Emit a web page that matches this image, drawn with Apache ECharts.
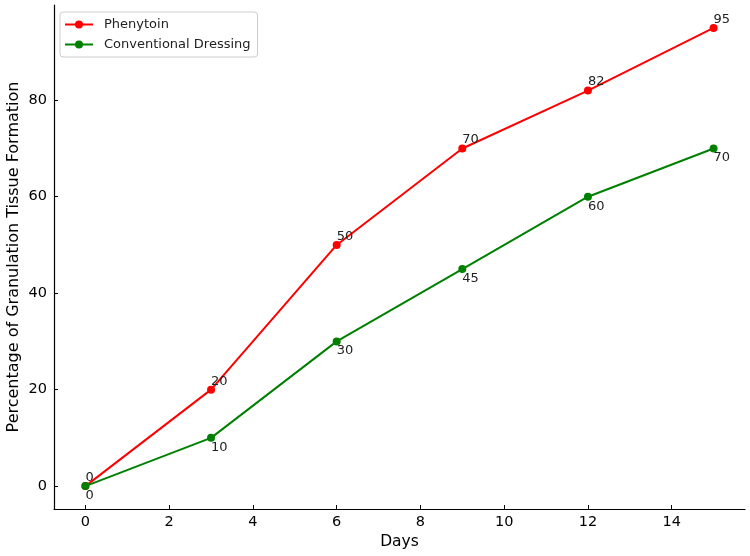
<!DOCTYPE html>
<html>
<head>
<meta charset="utf-8">
<script src="https://cdn.jsdelivr.net/npm/echarts@6/dist/echarts.min.js"></script>
<style>
html,body{margin:0;padding:0;background:#fff;}
#chart{width:750px;height:556px;}
</style>
</head>
<body>
<div id="chart"></div>
<script>
const days = [0, 3, 6, 9, 12, 15];
const phenytoin = [0, 20, 50, 70, 82, 95];
const conventional = [0, 10, 30, 45, 60, 70];
const xTicks = [0, 2, 4, 6, 8, 10, 12, 14];
const yTicks = [0, 20, 40, 60, 80];
const seriesNames = ['Phenytoin', 'Conventional Dressing'];
const xName = 'Days';
const yName = 'Percentage of Granulation Tissue Formation';

const font = 'DejaVu Sans';
const chart = echarts.init(document.getElementById('chart'));

function pairs(xs, ys) { return xs.map((x, i) => [x, ys[i]]); }

chart.setOption({
  animation: false,
  backgroundColor: '#fff',
  textStyle: { fontFamily: font },
  grid: { left: 54, right: 5, top: 5, bottom: 47, containLabel: false, outerBoundsMode: 'none' },
  legend: {
    orient: 'vertical',
    left: 60, top: 12,
    padding: [6, 7, 6, 4],
    itemWidth: 28, itemHeight: 10, itemGap: 7,
    borderColor: '#cccccc', borderWidth: 1, borderRadius: 3,
    backgroundColor: 'rgba(255,255,255,0.8)',
    textStyle: { fontFamily: font, fontSize: 13, color: '#222', padding: [0, 0, 0, 6] },
    data: seriesNames
  },
  xAxis: {
    type: 'value', min: -0.75, max: 15.75,
    name: xName, nameLocation: 'middle', nameGap: 25, nameMoveOverlap: false,
    nameTextStyle: { fontFamily: font, fontSize: 15.5, color: '#000' },
    splitLine: { show: false },
    axisLine: { onZero: false, lineStyle: { color: '#000', width: 1.2 } },
    axisTick: { inside: true, length: 4, customValues: xTicks, lineStyle: { color: '#000' } },
    axisLabel: { customValues: xTicks, fontFamily: font, fontSize: 14.5, color: '#000', margin: 6 }
  },
  yAxis: {
    type: 'value', min: -4.75, max: 99.75,
    name: yName, nameLocation: 'middle', nameGap: 32, nameMoveOverlap: false,
    nameTextStyle: { fontFamily: font, fontSize: 16, color: '#000' },
    splitLine: { show: false },
    axisLine: { show: true, onZero: false, lineStyle: { color: '#000', width: 1.2 } },
    axisTick: { show: true, inside: true, length: 4, customValues: yTicks, lineStyle: { color: '#000' } },
    axisLabel: { customValues: yTicks, fontFamily: font, fontSize: 14.5, color: '#000', margin: 7 }
  },
  series: [
    {
      name: seriesNames[0], type: 'line', data: pairs(days, phenytoin),
      color: '#ff0000', symbol: 'circle', symbolSize: 8,
      lineStyle: { width: 2 },
      label: { show: true, position: 'top', align: 'left', distance: -2,
        formatter: p => p.value[1], fontFamily: font, fontSize: 13, color: '#222' }
    },
    {
      name: seriesNames[1], type: 'line', data: pairs(days, conventional),
      color: '#008000', symbol: 'circle', symbolSize: 8,
      lineStyle: { width: 2 },
      label: { show: true, position: 'bottom', align: 'left', distance: -1,
        formatter: p => p.value[1], fontFamily: font, fontSize: 13, color: '#222' }
    }
  ]
});
</script>
</body>
</html>
